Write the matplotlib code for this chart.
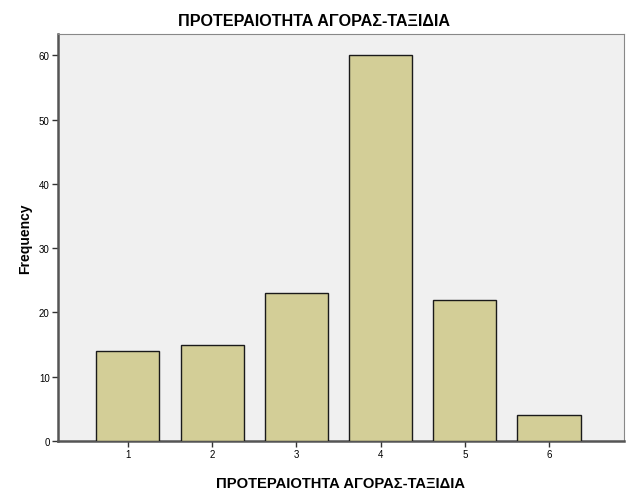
import matplotlib.pyplot as plt

categories = [1, 2, 3, 4, 5, 6]
counts = [14, 15, 23, 60, 22, 4]
yticks = [0, 10, 20, 30, 40, 50, 60]

plt.rcParams['font.family'] = ['Liberation Sans', 'DejaVu Sans']

fig = plt.figure(figsize=(6.27, 5.02), dpi=100)
ax = fig.add_axes([58 / 627, 60 / 502, 566 / 627, 407 / 502])
ax.set_facecolor('#f0f0f0')

ax.bar(categories, counts, width=0.75, color='#d3ce97', edgecolor='#1a1a1a', linewidth=1.0, zorder=3)

ax.set_xlim(0.17, 6.89)
ax.set_ylim(0, 63.3)
ax.set_xticks(categories)
ax.set_yticks(yticks)
ax.tick_params(labelsize=7, length=4, width=1, color='#333333', pad=2)

for s in ['left', 'bottom']:
    ax.spines[s].set_color('#555555')
    ax.spines[s].set_linewidth(1.8)
for s in ['top', 'right']:
    ax.spines[s].set_color('#888888')
    ax.spines[s].set_linewidth(0.8)

# title is centred on the whole figure, not the axes
fig.text(0.5, 1 - 21 / 502, 'ΠΡΟΤΕΡΑΙΟΤΗΤΑ ΑΓΟΡΑΣ-ΤΑΞΙΔΙΑ', fontsize=11.6, fontweight='bold',
         ha='center', va='center')
ax.set_xlabel('ΠΡΟΤΕΡΑΙΟΤΗΤΑ ΑΓΟΡΑΣ-ΤΑΞΙΔΙΑ', fontsize=10.6, fontweight='bold', labelpad=12)
ax.set_ylabel('Frequency', fontsize=10, fontweight='bold', labelpad=5)

fig.savefig('out.png', dpi=100)
